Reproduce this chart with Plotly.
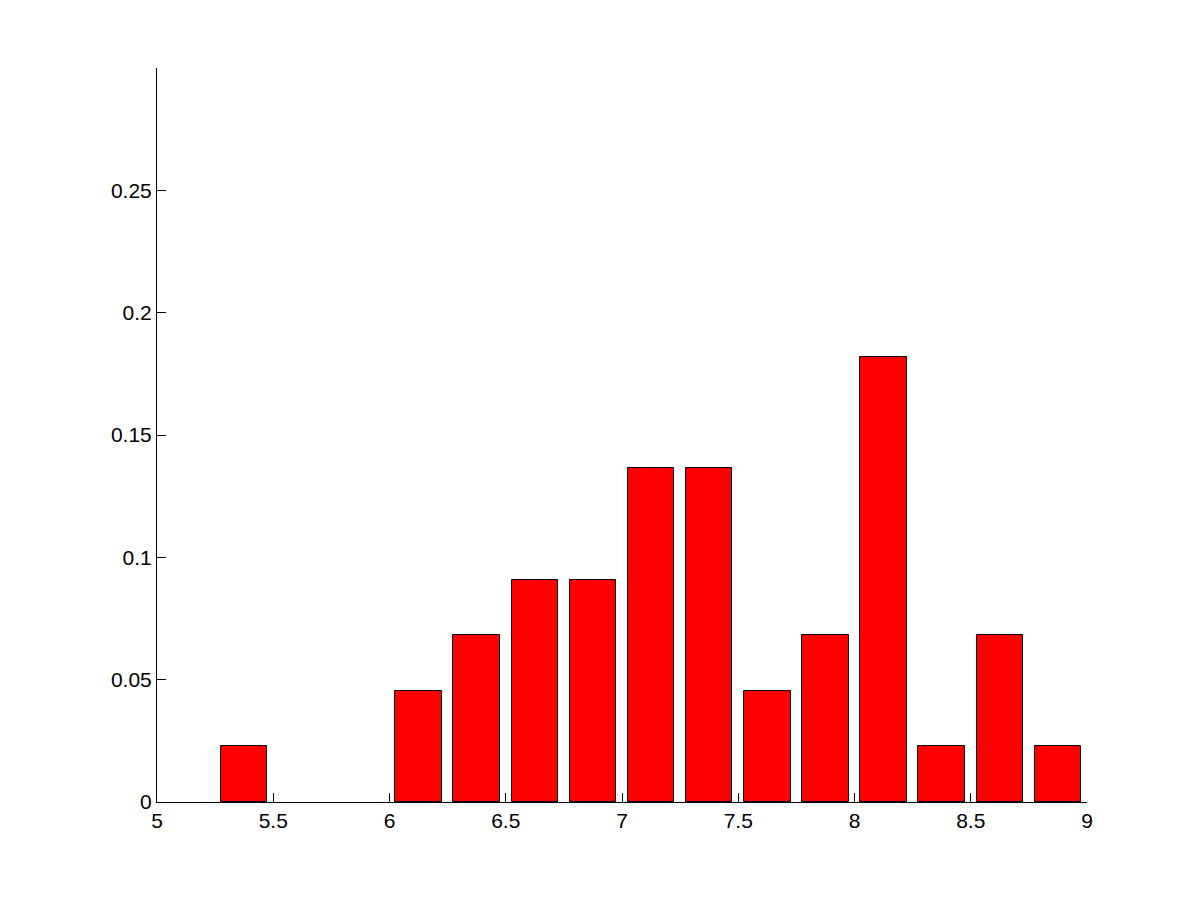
import plotly.graph_objects as go

bin_centers = [5.375, 5.625, 5.875, 6.125, 6.375, 6.625, 6.875, 7.125,
               7.375, 7.625, 7.875, 8.125, 8.375, 8.625, 8.875]
counts = [1, 0, 0, 2, 3, 4, 4, 6, 6, 2, 3, 8, 1, 3, 1]
total = 44
freq = [c / total for c in counts]

x_ticks = [5, 5.5, 6, 6.5, 7, 7.5, 8, 8.5, 9]
x_tick_labels = ["5", "5.5", "6", "6.5", "7", "7.5", "8", "8.5", "9"]
y_ticks = [0, 0.05, 0.1, 0.15, 0.2, 0.25]
y_tick_labels = ["0", "0.05", "0.1", "0.15", "0.2", "0.25"]

fig = go.Figure()
fig.add_trace(go.Bar(
    x=bin_centers, y=freq, width=0.2,
    marker=dict(color="#ff0000",
                line=dict(color="black", width=[1 if c > 0 else 0 for c in counts])),
))

font = dict(family="Liberation Sans, Arial, Helvetica, sans-serif", size=21, color="black")

fig.update_layout(
    width=1201, height=901,
    margin=dict(l=149, r=122, t=60, b=107, pad=0),
    paper_bgcolor="white", plot_bgcolor="white",
    showlegend=False,
    font=font,
    bargap=0,
)
fig.update_xaxes(
    range=[5, 9], tickvals=x_ticks, ticktext=x_tick_labels,
    showgrid=False, zeroline=False, showline=True, linecolor="black", linewidth=1,
    ticks="inside", ticklen=9, tickcolor="black", tickwidth=1,
    tickfont=font, mirror=False,
)
fig.update_yaxes(
    range=[0, 0.3], tickvals=y_ticks, ticktext=y_tick_labels,
    showgrid=False, zeroline=False, showline=True, linecolor="black", linewidth=1,
    ticks="inside", ticklen=9, tickcolor="black", tickwidth=1,
    tickfont=font, mirror=False,
)

fig.write_html("out.html")
